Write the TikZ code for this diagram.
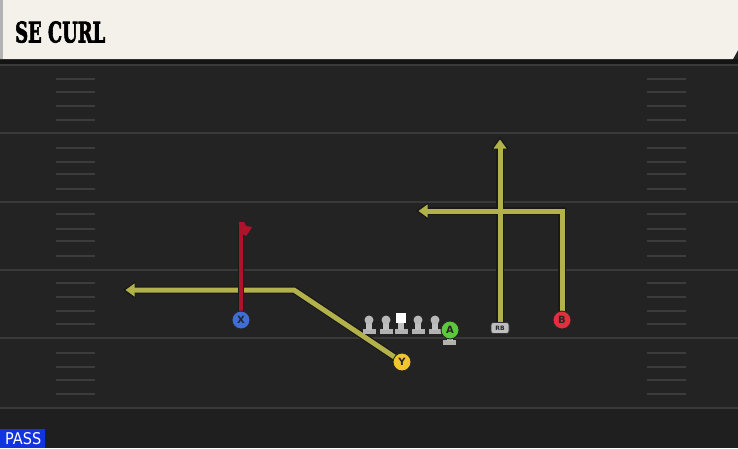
\documentclass[tikz,border=0pt]{standalone}
\usepackage{fontspec}
\usetikzlibrary{arrows.meta}
\newfontfamily\titlefont[FakeBold=3]{DejaVu Serif}
\newfontfamily\labelfont{DejaVu Sans}
\definecolor{field}{HTML}{232323}
\definecolor{fieldline}{HTML}{393939}
\definecolor{hashc}{HTML}{3c3c3c}
\definecolor{cream}{HTML}{F4F1EA}
\definecolor{route}{HTML}{B3B24A}
\definecolor{block}{HTML}{B0122C}
\definecolor{pblue}{HTML}{3F6FD6}
\definecolor{pyellow}{HTML}{F0C530}
\definecolor{pgreen}{HTML}{5CC93A}
\definecolor{pred}{HTML}{E0303E}
\definecolor{passblue}{HTML}{1234E0}
\tikzset{
  yardline/.style={fieldline, line width=2pt},
  hashmark/.style={hashc, line width=1.6pt},
  player/.style={circle, draw=black!85, line width=0.9pt, minimum size=18pt, inner sep=0pt, font=\labelfont\bfseries\fontsize{10}{10}\selectfont, text=black!85},
  routeout/.style={black!90, line width=7.5pt, line join=miter},
  routein/.style={route, line width=5pt, line join=miter}
}
\begin{document}
\begin{tikzpicture}[x=1pt,y=-1pt]
\useasboundingbox (0,0) rectangle (738,448);
% background
\fill[field] (0,0) rectangle (738,448);
\fill[black!88] (0,408) rectangle (738,448);
\fill[black!92] (0,59) rectangle (738,66);
% header
\fill[cream] (0,0) -- (738,0) -- (738,50) -- (733,59) -- (0,59) -- cycle;
\fill[black!30] (0,0) rectangle (3,59);
\node[anchor=south west, inner sep=0pt] (title) at (15,43) {\resizebox{90pt}{21pt}{\titlefont\bfseries SE CURL}};
% yard lines
\foreach \yy in {65,133,202,270,338,408} {
  \draw[yardline] (0,\yy) -- (738,\yy);
}
% hash marks
\foreach \yy in {79,92,106,120,148,162,174,189,214,229,241,256,283,297,311,324,353,367,380,394} {
  \draw[hashmark] (56,\yy) -- (95,\yy);
  \draw[hashmark] (647,\yy) -- (686,\yy);
}
% coordinates
\coordinate (ycorner) at (294,290);
\coordinate (yend) at (123,290);
\coordinate (xend) at (241,224);
\coordinate (rbend) at (500,137);
\coordinate (bcorner) at (562,211);
\coordinate (bend) at (416,211);
% routes (outline)
\draw[routeout] (402,362) -- (ycorner) -- (131,290);
\draw[routeout] (500,328) -- (500,146);
\draw[routeout] (562,320) -- (bcorner) -- (425,211);
% arrow outlines
\fill[black!90] (yend) -- ++(12,-8.5) -- ++(0,17) -- cycle;
\fill[black!90] (rbend) -- ++(-8.5,12) -- ++(17,0) -- cycle;
\fill[black!90] (bend) -- ++(12,-8.5) -- ++(0,17) -- cycle;
% routes (fill)
\draw[routein] (402,362) -- (ycorner) -- (131,290);
\draw[routein] (500,328) -- (500,146);
\draw[routein] (562,320) -- (bcorner) -- (425,211);
\fill[route] (125.5,290) -- ++(9,-6.5) -- ++(0,13) -- cycle;
\fill[route] (500,139.5) -- ++(-6.5,9) -- ++(13,0) -- cycle;
\fill[route] (418.5,211) -- ++(9,-6.5) -- ++(0,13) -- cycle;
% X block route
\draw[black!90, line width=6.5pt] (241,320) -- (241,225);
\draw[block, line width=4.5pt] (241,320) -- (xend);
\fill[block] (238.8,222) -- (244,222) -- (246,226) -- (252,227) -- (249,232) -- (246,236) -- (241,233) -- cycle;
% linemen
\foreach \lx in {369,386,418,435} {
  \fill[black!30] (\lx-6.5,329) rectangle (\lx+6.5,334);
  \fill[black!25] (\lx-3,322) rectangle (\lx+3,330);
  \fill[black!28] (\lx,320) circle (4.5pt);
}
\fill[black!30] (394.5,329) rectangle (407.5,334);
\fill[black!25] (398,322) rectangle (404,330);
\fill[white] (396,313) rectangle (406,323);
% A stand
\fill[black!30] (443,340) rectangle (456,345);
\fill[black!25] (446.5,334) rectangle (452.5,341);
% players
\node[player, fill=pblue] (X) at (241,320) {X};
\node[player, fill=pyellow] (Y) at (402,362) {Y};
\node[player, fill=pgreen] (A) at (450,330) {A};
\node[player, fill=pred] (B) at (562,320) {B};
\node[rounded corners=2.5pt, fill=black!25, draw=black!80, line width=0.6pt, minimum width=18pt, minimum height=11pt, inner sep=0pt, font=\labelfont\bfseries\fontsize{6}{6}\selectfont, text=black!85] (RB) at (500,328) {RB};
% pass label
\fill[passblue] (0,429) rectangle (45,448);
\node[anchor=south west, inner sep=0pt, text=white] (pass) at (5,445) {\resizebox{36pt}{12pt}{\labelfont PASS}};
\end{tikzpicture}
\end{document}
